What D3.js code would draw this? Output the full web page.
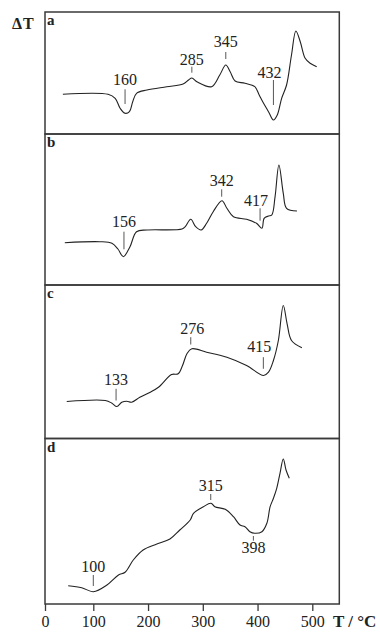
<!DOCTYPE html>
<html>
<head>
<meta charset="utf-8">
<script src="https://cdn.jsdelivr.net/npm/d3@7"></script>
<style>
  body { margin: 0; background: #fff; }
  svg { display: block; }
  text { font-family: "Liberation Serif", "DejaVu Serif", serif; fill: #222; }
</style>
</head>
<body>
<svg id="chart"></svg>
<script>
// DTA curves, T in °C, dT in arbitrary units (height above panel floor)
const tA = [37, 127, 140, 149, 158, 166, 172, 179, 198, 234, 264, 274, 280, 290, 316, 331, 342, 350, 359, 377, 395, 403, 411, 420, 429, 436, 444, 453, 462, 470, 478, 487, 496, 508];
const dA = [39.7, 39.7, 35.7, 25.7, 20.7, 22.3, 32.3, 40.7, 44, 47.3, 50, 54, 56, 52, 47.3, 59, 69, 62.3, 53, 50.7, 47.3, 39, 30.7, 22.3, 14, 19, 35.7, 49, 79, 103, 92.3, 75.7, 70.7, 67.3];

const tB = [41, 112, 134, 145, 155, 167, 179, 198, 262, 268, 278, 287, 297, 307, 319, 335, 344, 356, 380, 398, 408, 412, 420, 426, 432, 439, 447, 453, 472];
const dB = [42.3, 43.3, 41.7, 36, 28.3, 38.3, 53.3, 55, 56, 58.3, 65.7, 58.3, 55, 61.7, 73.3, 84.3, 76.7, 68.3, 65.7, 61.7, 56.7, 66.7, 69, 70, 88.3, 120, 91.7, 76.7, 74];

const tC = [45, 122, 134, 143, 152, 161, 170, 185, 204, 219, 243, 255, 263, 271, 280, 307, 344, 380, 411, 420, 429, 438, 447, 454, 462, 481];
const dC = [37, 38, 35.3, 32, 36.3, 37.3, 36.3, 41.3, 46.3, 51.3, 64, 64.7, 73, 84.7, 89.7, 86.3, 81.3, 73, 63, 66.3, 78, 98, 133, 114.7, 98, 90.7];

const tD = [48, 76, 100, 125, 146, 158, 173, 191, 216, 240, 258, 277, 283, 301, 315, 322, 341, 356, 368, 377, 386, 395, 408, 417, 423, 429, 435, 441, 447, 452, 458];
const dD = [18.3, 16.3, 12.3, 19, 29, 31.7, 44, 54, 60, 65, 74, 84, 90.7, 97.3, 100.7, 97.3, 94.7, 87.3, 79, 77.3, 72.3, 70.7, 72.3, 80.7, 97.3, 105.7, 115.7, 130.7, 145, 134, 125.7];

const panelNames = ["a", "b", "c", "d"];
const xTicks = [0, 100, 200, 300, 400, 500];

// peak labels: text, where the tick sits (T) and its span in dT units
const peaksA = [
  { text: "160", t: 158, lo: 30, hi: 44.7, base: 49, dx: 0 },
  { text: "285", t: 280, lo: 61.3, hi: 67.3, base: 69, dx: 0 },
  { text: "345", t: 342, lo: 75, hi: 82, base: 87.3, dx: 0 },
  { text: "432", t: 429, lo: 29, hi: 54, base: 56, dx: -4 }
];
const peaksB = [
  { text: "156", t: 156, lo: 35.7, hi: 53.3, base: 57.7, dx: 0 },
  { text: "342", t: 334.5, lo: 88.3, hi: 95.7, base: 99, dx: 0 },
  { text: "417", t: 404.6, lo: 64.3, hi: 76.7, base: 79, dx: -4 }
];
const peaksC = [
  { text: "133", t: 141.6, lo: 38, hi: 49.7, base: 54, dx: 0 },
  { text: "276", t: 278, lo: 94, hi: 101.3, base: 104.7, dx: 1.5 },
  { text: "415", t: 410.6, lo: 69.7, hi: 81.3, base: 86.3, dx: -4 }
];
const peaksD = [
  { text: "100", t: 100, lo: 18, hi: 29, base: 32.3, dx: 0 },
  { text: "315", t: 314.5, lo: 104, hi: 110, base: 113.3, dx: 0 },
  { text: "398", t: 392.4, lo: 63.3, hi: 68, base: 50.7, dx: 0 }
];

const W = 380, H = 632;
const svg = d3.select("#chart").attr("width", W).attr("height", H);

// the printed axis is not quite linear between 0 and 100
const x = d3.scaleLinear()
  .domain([0, 100, 500, 549])
  .range([45, 93.3, 312.3, 339.3]);

const panelTops = [12, 134, 285, 438.5];
const panelBottoms = [134, 285, 438.5, 604];

const series = [
  { t: tA, d: dA, peaks: peaksA },
  { t: tB, d: dB, peaks: peaksB },
  { t: tC, d: dC, peaks: peaksC },
  { t: tD, d: dD, peaks: peaksD }
];

series.forEach((s, i) => {
  const top = panelTops[i], bottom = panelBottoms[i];
  const y = d3.scaleLinear().domain([0, bottom - top]).range([bottom, top]);
  const g = svg.append("g");

  g.append("rect")
    .attr("x", x.range()[0])
    .attr("y", top)
    .attr("width", x(549) - x(0))
    .attr("height", bottom - top)
    .attr("fill", "none")
    .attr("stroke", "#3a3a3a")
    .attr("stroke-width", 1.5);

  g.append("text")
    .attr("x", 47)
    .attr("y", top + 13)
    .style("font-size", "15px")
    .style("font-weight", "bold")
    .text(panelNames[i]);

  const pts = s.t.map((t, k) => [t, s.d[k]]);
  const line = d3.line()
    .x(d => x(d[0]))
    .y(d => y(d[1]))
    .curve(d3.curveCatmullRom.alpha(0.5));

  g.append("path")
    .datum(pts)
    .attr("d", line)
    .attr("fill", "none")
    .attr("stroke", "#222")
    .attr("stroke-width", 1.1);

  s.peaks.forEach(p => {
    g.append("line")
      .attr("x1", x(p.t)).attr("x2", x(p.t))
      .attr("y1", y(p.lo)).attr("y2", y(p.hi))
      .attr("stroke", "#444")
      .attr("stroke-width", 0.9);
    g.append("text")
      .attr("x", x(p.t) + p.dx)
      .attr("y", y(p.base))
      .attr("text-anchor", "middle")
      .style("font-size", "16px")
      .text(p.text);
  });
});

// x axis along the bottom panel
const axisY = panelBottoms[3];
const axis = svg.append("g")
  .attr("transform", `translate(0,${axisY})`)
  .call(d3.axisBottom(x).tickValues(xTicks).tickSize(7).tickSizeOuter(0).tickPadding(5));
axis.select(".domain").remove();
axis.selectAll(".tick line").attr("stroke", "#3a3a3a").attr("stroke-width", 1.3);
axis.selectAll(".tick text")
  .attr("fill", "#222")
  .style("font-family", "'Liberation Serif', serif")
  .style("font-size", "16px");

svg.append("text")
  .attr("x", 333)
  .attr("y", 627)
  .style("font-size", "17px")
  .style("font-weight", "bold")
  .attr("xml:space", "preserve")
  .text("T / °C");

svg.append("text")
  .attr("x", 12)
  .attr("y", 28.5)
  .style("font-size", "16px")
  .style("font-weight", "bold")
  .style("letter-spacing", "1px")
  .text("ΔT");
</script>
</body>
</html>
